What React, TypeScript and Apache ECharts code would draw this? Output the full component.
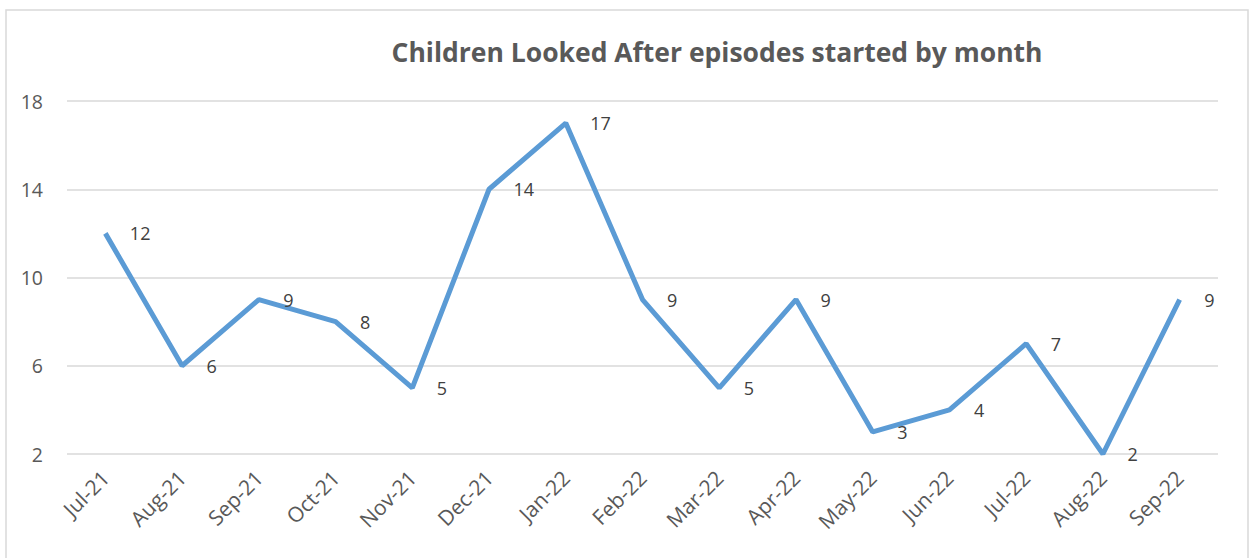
import React, { useEffect, useRef } from "react";
import * as echarts from "echarts";

const categories = ["Jul-21", "Aug-21", "Sep-21", "Oct-21", "Nov-21", "Dec-21", "Jan-22", "Feb-22", "Mar-22", "Apr-22", "May-22", "Jun-22", "Jul-22", "Aug-22", "Sep-22"];
const episodes = [12, 6, 9, 8, 5, 14, 17, 9, 5, 9, 3, 4, 7, 2, 9];
const titleText = "Children Looked After episodes started by month";

export default function App() {
  const ref = useRef<HTMLDivElement>(null);
  useEffect(() => {
    if (!ref.current) return;
    const chart = echarts.init(ref.current, null, { renderer: "svg" });
    const font = "Open Sans";
    chart.setOption({
      animation: false,
      backgroundColor: "#ffffff",
      title: {
        text: titleText,
        left: 712,
        textAlign: "center",
        top: 33,
        textStyle: { fontFamily: font, fontSize: 26.5, fontWeight: "bold", color: "#595959" },
      },
      graphic: [
        {
          type: "rect",
          shape: { x: 6, y: 10, width: 1242, height: 570 },
          style: { fill: "none", stroke: "#d9d9d9", lineWidth: 1.5 },
          silent: true,
        },
      ],
      grid: { left: 67, right: 34, top: 101, bottom: 104 },
      xAxis: {
        type: "category",
        data: categories,
        boundaryGap: true,
        axisLine: { show: false },
        axisTick: { show: false },
        axisLabel: { rotate: 45, margin: 20, fontFamily: font, fontSize: 21, color: "#595959", interval: 0 },
      },
      yAxis: {
        type: "value",
        min: 2,
        max: 18,
        interval: 4,
        axisLine: { show: false },
        axisTick: { show: false },
        splitLine: { lineStyle: { color: "#d9d9d9", width: 1.5 } },
        axisLabel: { margin: 24, fontFamily: font, fontSize: 19.5, color: "#595959" },
      },
      series: [
        {
          type: "line",
          data: episodes,
          symbol: "circle",
          symbolSize: 1,
          showSymbol: true,
          itemStyle: { color: "rgba(0,0,0,0)" },
          lineStyle: { color: "#5b9bd5", width: 5 },
          label: {
            show: true,
            position: "right",
            distance: 24,
            fontFamily: font,
            fontSize: 18,
            color: "#404040",
          },
        },
      ],
    });
    return () => chart.dispose();
  }, []);
  return <div ref={ref} style={{ position: "fixed", left: 0, top: 0, width: 1252, height: 558 }} />;
}
